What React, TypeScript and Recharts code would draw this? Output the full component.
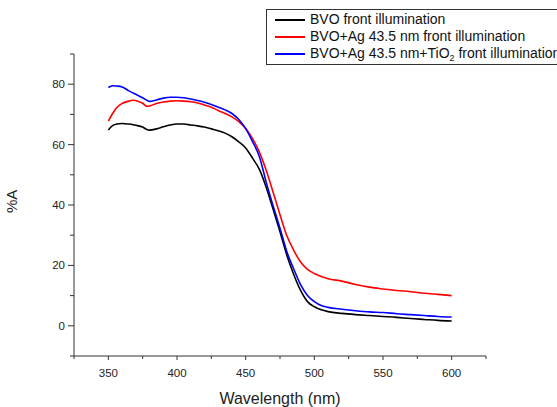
import React from "react";
import { LineChart, Line, XAxis, YAxis } from "recharts";

const wavelengths = [350,353,356,360,365,368,372,375,378,380,385,390,395,400,405,410,415,420,425,430,435,440,445,450,455,460,465,470,475,480,485,490,495,500,505,510,520,530,540,550,560,570,580,590,600];

const bvo = [64.8,66.3,66.8,67.0,66.8,66.6,66.2,65.8,65.0,64.8,65.2,65.9,66.5,66.8,66.8,66.5,66.2,65.8,65.2,64.6,63.8,62.6,60.9,58.9,55.5,51.8,45.8,38.6,31.1,23.4,17.0,11.7,8.0,6.3,5.3,4.7,4.1,3.7,3.4,3.1,2.8,2.4,2.1,1.8,1.6];

const bvoAg = [67.8,70.2,72.2,73.6,74.4,74.7,74.3,73.7,72.7,72.8,73.6,74.1,74.4,74.5,74.4,74.2,73.8,73.1,72.4,71.3,70.3,69.2,67.6,65.3,62.0,57.5,51.4,44.2,36.8,29.8,25.0,21.1,18.7,17.3,16.3,15.6,14.8,13.7,12.8,12.2,11.7,11.3,10.8,10.4,10.0];

const bvoAgTiO2 = [78.9,79.5,79.4,79.1,77.8,77.1,76.2,75.5,74.7,74.3,74.8,75.4,75.7,75.7,75.5,75.1,74.6,74.0,73.3,72.4,71.5,70.3,68.3,65.3,61.0,56.0,47.5,39.7,32.3,24.5,18.8,13.6,10.0,8.0,6.7,6.1,5.5,5.0,4.6,4.4,4.0,3.7,3.4,3.1,2.9];

const xTicks = [325,350,375,400,425,450,475,500,525,550,575,600,625];
const xMajor = [350,400,450,500,550,600];
const yTicks = [-10,0,10,20,30,40,50,60,70,80,90];
const yMajor = [0,20,40,60,80];

const seriesNames = [
  "BVO front illumination",
  "BVO+Ag 43.5 nm front illumination",
  "BVO+Ag 43.5 nm+TiO2 front illumination",
];
const seriesColors = ["#000000", "#ff0000", "#0000ff"];

const data = wavelengths.map((w, i) => ({
  w,
  bvo: bvo[i],
  bvoAg: bvoAg[i],
  bvoAgTiO2: bvoAgTiO2[i],
}));

const FONT = "'Liberation Sans', Arial, sans-serif";
const AXIS = "#333333";

const XTick = (props: any) => {
  const { x, y, payload } = props;
  const major = xMajor.includes(payload.value);
  return (
    <g>
      <line x1={x} y1={y} x2={x} y2={y + (major ? 4 : 3)} stroke={AXIS} strokeWidth={1} />
      {major && (
        <text x={x} y={y + 21} textAnchor="middle" fontSize={11.5} fill="#222" fontFamily={FONT}>
          {payload.value}
        </text>
      )}
    </g>
  );
};

const YTick = (props: any) => {
  const { x, y, payload } = props;
  const major = yMajor.includes(payload.value);
  return (
    <g>
      <line x1={x} y1={y} x2={x - (major ? 6 : 4)} y2={y} stroke={AXIS} strokeWidth={1} />
      {major && (
        <text x={x - 9} y={y + 4} textAnchor="end" fontSize={11.5} fill="#222" fontFamily={FONT}>
          {payload.value}
        </text>
      )}
    </g>
  );
};

const LegendBox = () => (
  <div
    style={{
      position: "absolute",
      left: 266,
      top: 9,
      border: "1px solid #333",
      background: "#fff",
      padding: "1px 0 2px 8px",
      fontFamily: FONT,
      fontSize: 14,
      color: "#111",
      width: 320,
      boxSizing: "border-box",
      lineHeight: "17px",
      whiteSpace: "nowrap",
    }}
  >
    {seriesNames.map((n, i) => (
      <div key={n} style={{ display: "flex", alignItems: "center", height: 17 }}>
        <span
          style={{
            display: "inline-block",
            width: 30,
            height: 0,
            borderTop: `2px solid ${seriesColors[i]}`,
            marginRight: 5,
          }}
        />
        <span>
          {i === 2 ? (
            <>
              BVO+Ag 43.5 nm+TiO
              <sub style={{ fontSize: 9, verticalAlign: "-3px", lineHeight: 0 }}>2</sub> front illumination
            </>
          ) : (
            n
          )}
        </span>
      </div>
    ))}
  </div>
);

export default function App() {
  return (
    <div style={{ position: "absolute", left: 0, top: 0, width: 557, height: 407, background: "#fff", overflow: "hidden" }}>
      <LineChart width={557} height={407} data={data} margin={{ top: 54, right: 71, left: 0, bottom: 0 }}>
        <XAxis
          dataKey="w"
          type="number"
          domain={[325, 625]}
          ticks={xTicks}
          interval={0}
          tickSize={0}
          tickMargin={0}
          tickLine={false}
          tick={<XTick />}
          height={51}
          axisLine={{ stroke: AXIS, strokeWidth: 1 }}
          label={{ value: "Wavelength (nm)", position: "insideBottom", offset: 3, fontSize: 16, fill: "#222", fontFamily: FONT }}
        />
        <YAxis
          type="number"
          domain={[-10, 90]}
          ticks={yTicks}
          interval={0}
          tickSize={0}
          tickMargin={0}
          tickLine={false}
          tick={<YTick />}
          width={74}
          axisLine={{ stroke: AXIS, strokeWidth: 1 }}
          label={{ value: "%A", angle: -90, position: "insideLeft", offset: 12, dy: 8, fontSize: 15, fill: "#222", fontFamily: FONT }}
        />
        <Line type="monotone" dataKey="bvo" name={seriesNames[0]} stroke={seriesColors[0]} strokeWidth={1.6} dot={false} isAnimationActive={false} />
        <Line type="monotone" dataKey="bvoAg" name={seriesNames[1]} stroke={seriesColors[1]} strokeWidth={1.6} dot={false} isAnimationActive={false} />
        <Line type="monotone" dataKey="bvoAgTiO2" name={seriesNames[2]} stroke={seriesColors[2]} strokeWidth={1.6} dot={false} isAnimationActive={false} />
      </LineChart>
      <LegendBox />
    </div>
  );
}
